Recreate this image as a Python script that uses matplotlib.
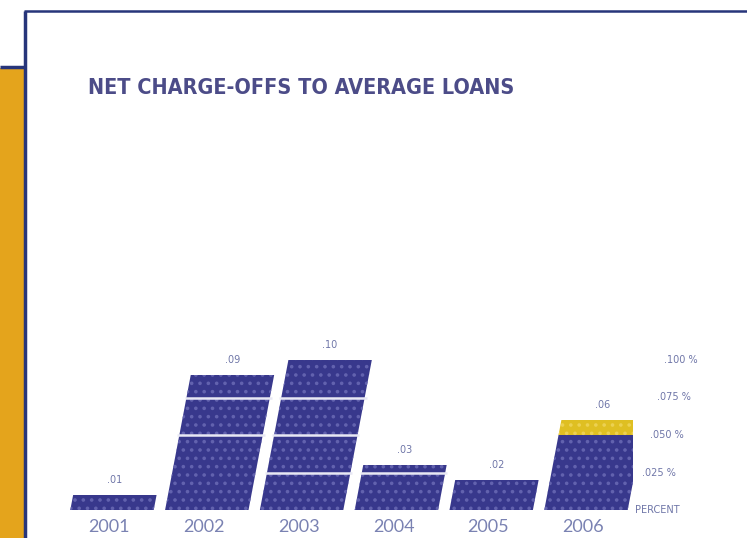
import matplotlib
matplotlib.use('Agg')
import matplotlib.pyplot as plt
from matplotlib.patches import Rectangle
from matplotlib.transforms import Affine2D

# -- net charge-offs to average loans, percent
years = ['2001', '2002', '2003', '2004', '2005', '2006']
rates = [0.01, 0.09, 0.10, 0.03, 0.02, 0.06]
rate_labels = ['.01', '.09', '.10', '.03', '.02', '.06']
# part of each bar drawn in gold (latest year increase)
gold_part = [0, 0, 0, 0, 0, 0.01]
# levels where a bar is split into blocks
block_breaks = [[], [0.05, 0.075], [0.025, 0.05, 0.075], [0.025], [], []]
scale_ticks = [0, 0.025, 0.05, 0.075, 0.10]
scale_labels = ['PERCENT', '.025 %', '.050 %', '.075 %', '.100 %']

NAVY = '#38388c'
DOTS = '#6262ae'
GOLD = '#dfbf22'
ORANGE = '#e4a41c'
FRAME = '#27357a'
TEXT = '#6f76a8'

W, H = 747, 538
fig = plt.figure(figsize=(W / 100, H / 100), dpi=100)
plt.rcParams['hatch.linewidth'] = 1.4

# -- page frame and side panel, in pixels
bg = fig.add_axes([0, 0, 1, 1])
bg.set_xlim(0, W)
bg.set_ylim(H, 0)
bg.axis('off')
bg.add_patch(Rectangle((0, 68), 24, H - 68, color=ORANGE, lw=0))
bg.plot([0, 24], [67, 67], color=FRAME, lw=2.5, solid_capstyle='butt')
bg.plot([25, 25], [11, H], color=FRAME, lw=2.5, solid_capstyle='butt')
bg.plot([24, W], [11, 11], color=FRAME, lw=1.8, solid_capstyle='butt')
bg.text(88, 88, 'NET CHARGE-OFFS TO AVERAGE LOANS', fontsize=15.5, fontweight='bold',
        fontstretch='condensed', family=['Liberation Sans Narrow', 'DejaVu Sans'],
        color='#4c4c88', va='center', ha='left')

# -- bar chart
step = 94.8
left_px = 112 - step / 2
base_px = H - 510
px_per_unit = 1500.0
ax = fig.add_axes([left_px / W, base_px / H, 6 * step / W, 0.125 * px_per_unit / H])
ax.set_xlim(-0.5, 5.5)
ax.set_ylim(0, 0.125)
ax.axis('off')
ax.patch.set_alpha(0)

# bars lean right: x shift of 0.19 px per px of height, expressed in data units
lean = 0.19 * px_per_unit / step
shear = Affine2D.from_values(1, 0, lean, 1, 0, 0) + ax.transData

x = list(range(len(years)))
navy_part = [r - g for r, g in zip(rates, gold_part)]
width = 0.88
ax.bar(x, navy_part, width, color=NAVY, edgecolor=DOTS, lw=0, hatch='..', transform=shear)
ax.bar(x, gold_part, width, bottom=navy_part, color=GOLD, edgecolor='#ecd152', lw=0,
       hatch='..', transform=shear)

for i, levels in enumerate(block_breaks):
    for lv in levels:
        ax.plot([i - width / 2 - 0.02, i + width / 2 + 0.02], [lv, lv], color='#e8e8f4',
                lw=1.8, transform=shear, solid_capstyle='butt')

for i, (r, lab) in enumerate(zip(rates, rate_labels)):
    ax.annotate(lab, xy=(i, r), xycoords=shear, xytext=(0, 7), textcoords='offset points',
                ha='center', va='bottom', fontsize=7, color=TEXT, family='DejaVu Sans')
    ax.annotate(years[i], xy=(i, 0), xycoords=ax.transData, xytext=(-2, -12),
                textcoords='offset points', ha='center', va='center', fontsize=13,
                color='#7a82b2', family=['Lato', 'DejaVu Sans'])

for t, lab in zip(scale_ticks, scale_labels):
    ax.annotate(lab, xy=(5.52, t), xycoords=shear, ha='left', va='center',
                fontsize=7, color=TEXT, family='DejaVu Sans', annotation_clip=False)

fig.savefig('out.png', dpi=100)
